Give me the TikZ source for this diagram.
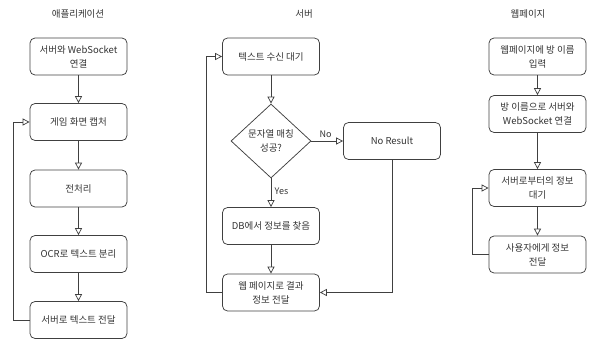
\documentclass[tikz,border=0pt]{standalone}
\usepackage{fontspec}
\setmainfont{Noto Sans CJK KR}
\usetikzlibrary{shapes.geometric,arrows.meta}
\definecolor{ln}{HTML}{404040}
\definecolor{txt}{HTML}{333333}
\begin{document}
\begin{tikzpicture}[x=1pt,y=-1pt,
  font=\fontsize{9.5}{14}\selectfont,
  box/.style={draw=ln, rounded corners=5pt, minimum width=97pt, minimum height=37pt,
    align=center, text=txt, inner sep=2pt, line width=0.75pt},
  ttl/.style={text=txt},
  lbl/.style={text=txt, font=\fontsize{9}{11}\selectfont},
  arr/.style={draw=ln, line width=0.75pt, -{Triangle[open,length=7pt,width=7pt]}}]
\useasboundingbox (0,0) rectangle (589,339);

% titles
\node[ttl] (t1) at (78,14) {애플리케이션};
\node[ttl] (t2) at (304,14) {서버};
\node[ttl] (t3) at (528,14) {웹페이지};

% left column
\node[box] (a1) at (78.5,56.5) {서버와 WebSocket\\연결};
\node[box] (a2) at (78.5,122) {게임 화면 캡처};
\node[box] (a3) at (78.5,188.5) {전처리};
\node[box] (a4) at (78.5,254) {OCR로 텍스트 분리};
\node[box] (a5) at (78.5,320) {서버로 텍스트 전달};
\draw[arr] (a1) -- (a2);
\draw[arr] (a2) -- (a3);
\draw[arr] (a3) -- (a4);
\draw[arr] (a4) -- (a5);
\draw[arr] (a5.west) -- ++(-16,0) |- (a2.west);

% middle column
\node[box] (s1) at (271,56.5) {텍스트 수신 대기};
\node[diamond, draw=ln, line width=0.75pt, minimum width=80pt, minimum height=74pt, inner sep=0pt] (dec) at (271,141) {};
\node[text=txt, align=center] (dect) at (dec) {문자열 매칭\\성공?};
\node[box] (nr) at (392,141) {No Result};
\node[box] (db) at (271,226) {DB에서 정보를 찾음};
\node[box] (s4) at (271,292.5) {웹 페이지로 결과\\정보 전달};
\draw[arr] (s1) -- (dec);
\draw[arr] (dec.east) -- node[lbl, above, pos=0.45] {No} (nr.west);
\draw[arr] (dec.south) -- node[lbl, right, pos=0.45] {Yes} (db.north);
\draw[arr] (db) -- (s4);
\draw[arr] (nr.south) |- (s4.east);
\draw[arr] (s4.west) -- ++(-16,0) |- (s1.west);

% right column
\node[box] (w1) at (537.5,56.5) {웹페이지에 방 이름\\입력};
\node[box] (w2) at (537.5,114) {방 이름으로 서버와\\WebSocket 연결};
\node[box] (w3) at (537.5,188) {서버로부터의 정보\\대기};
\node[box] (w4) at (537.5,254.5) {사용자에게 정보\\전달};
\draw[arr] (w1) -- (w2);
\draw[arr] (w2) -- (w3);
\draw[arr] (w3) -- (w4);
\draw[arr] (w4.west) -- ++(-16,0) |- (w3.west);
\end{tikzpicture}
\end{document}
